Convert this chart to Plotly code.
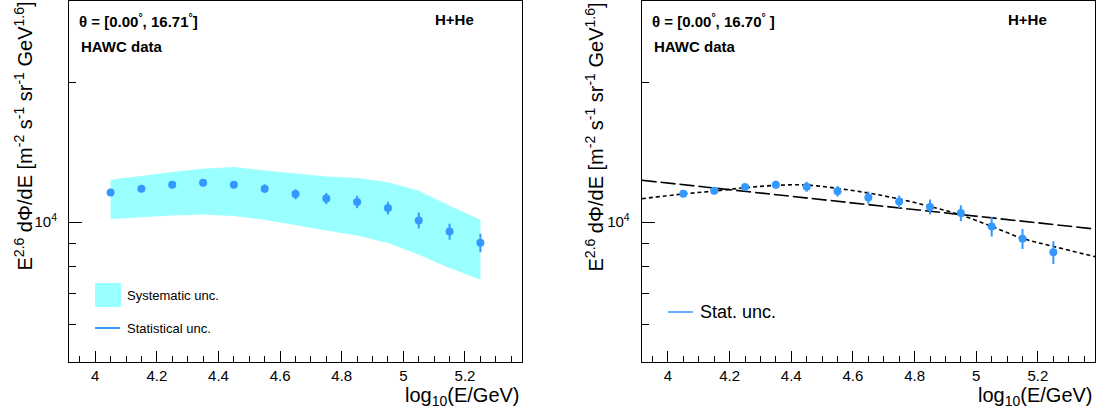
import plotly.graph_objects as go
import math

# ---------------- data ----------------
energy_bins = [4.05, 4.15, 4.25, 4.35, 4.45, 4.55, 4.65, 4.75, 4.85, 4.95, 5.05, 5.15, 5.25]

# left panel (HAWC data with systematic band)
left_flux = [11580, 11800, 12040, 12160, 12040, 11800, 11490, 11240, 11050, 10720, 10080, 9540, 9020]
left_stat_err = [86, 117, 150, 181, 210, 246, 286, 307, 346, 336, 401, 380, 417]
left_sys_upper = [12340, 12590, 12820, 13030, 13150, 12925, 12716, 12546, 12450, 12180, 11686, 10843, 10115]
left_sys_lower = [10150, 10250, 10335, 10385, 10300, 10115, 9833, 9592, 9356, 9007, 8500, 7956, 7505]

# right panel (HAWC data with fits)
right_flux = [11506, 11680, 11896, 12035, 11915, 11660, 11296, 11070, 10780, 10460, 9785, 9200, 8606]
right_stat_err = [143, 174, 207, 239, 296, 307, 348, 347, 402, 416, 477, 457, 484]

powerlaw_x = [3.915, 5.385]
powerlaw_y = [12310, 9660]

curve_x = [3.915, 4.05, 4.15, 4.25, 4.35, 4.45, 4.55, 4.65, 4.75, 4.85, 4.95, 5.05, 5.15, 5.25, 5.385]
curve_y = [11228, 11500, 11667, 11860, 12000, 12020, 11820, 11550, 11212, 10807, 10354, 9784, 9218, 8858, 8420]

x_range = [3.915, 5.385]
y_range = [5000, 30000]
y_major = [10000]
y_major_text = ["10<sup>4</sup>"]
y_minor = [6000, 7000, 8000, 9000, 20000]

# ---------------- styling ----------------
W, H = 1104, 419
FONT = "Liberation Sans, Arial, sans-serif"
BAND = "rgb(153,255,255)"
BLUE = "rgb(51,153,255)"

fig = go.Figure()

def px(x):
    return x / W

def py(y):
    return 1 - y / H

# left panel
fig.add_trace(go.Scatter(x=energy_bins, y=left_sys_lower, mode="lines",
                         line=dict(width=0, color=BAND), showlegend=False,
                         xaxis="x", yaxis="y", hoverinfo="skip"))
fig.add_trace(go.Scatter(x=energy_bins, y=left_sys_upper, mode="lines",
                         line=dict(width=0, color=BAND), fill="tonexty", fillcolor=BAND,
                         showlegend=False, xaxis="x", yaxis="y", hoverinfo="skip"))
fig.add_trace(go.Scatter(x=energy_bins, y=left_flux, mode="markers",
                         marker=dict(color=BLUE, size=8),
                         error_y=dict(type="data", array=left_stat_err, color=BLUE, thickness=2, width=0),
                         showlegend=False, xaxis="x", yaxis="y"))

# right panel
fig.add_trace(go.Scatter(x=powerlaw_x, y=powerlaw_y, mode="lines",
                         line=dict(color="black", width=1.6, dash="15px,4px"),
                         showlegend=False, xaxis="x2", yaxis="y2"))
fig.add_trace(go.Scatter(x=curve_x, y=curve_y, mode="lines",
                         line=dict(color="black", width=1.6, dash="4px,3px", shape="spline"),
                         showlegend=False, xaxis="x2", yaxis="y2"))
fig.add_trace(go.Scatter(x=energy_bins, y=right_flux, mode="markers",
                         marker=dict(color=BLUE, size=8),
                         error_y=dict(type="data", array=right_stat_err, color=BLUE, thickness=2, width=0),
                         showlegend=False, xaxis="x2", yaxis="y2"))

ydom = [1 - 361.5 / H, 1 - 1 / H]
left_dom = [69 / W, 522 / W]
right_dom = [641.7 / W, 1095 / W]

def xaxis(domain, anchor):
    return dict(domain=domain, anchor=anchor, range=x_range, showgrid=False, zeroline=False,
                showline=True, linecolor="black", linewidth=1, mirror=True,
                ticks="inside", tickmode="linear", tick0=4, dtick=0.2, ticklen=11,
                tickcolor="black", tickwidth=1,
                minor=dict(ticks="inside", dtick=0.05, tick0=4, ticklen=6, tickcolor="black", tickwidth=1),
                tickfont=dict(family=FONT, size=15, color="black"), fixedrange=True)

def yaxis(anchor):
    return dict(domain=ydom, anchor=anchor, type="log",
                range=[math.log10(y_range[0]), math.log10(y_range[1])],
                showgrid=False, zeroline=False, showline=True, linecolor="black", linewidth=1,
                mirror=True, ticks="inside", tickmode="array", tickvals=y_major, ticktext=y_major_text,
                ticklen=13, tickcolor="black", tickwidth=1, ticklabelstandoff=8,
                minor=dict(ticks="inside", tickmode="array", tickvals=y_minor, ticklen=7,
                           tickcolor="black", tickwidth=1),
                tickfont=dict(family=FONT, size=15, color="black"), fixedrange=True)

fig.update_layout(
    width=W, height=H, margin=dict(l=0, r=0, t=0, b=0),
    paper_bgcolor="white", plot_bgcolor="white", showlegend=False,
    xaxis=xaxis(left_dom, "y"), yaxis=yaxis("x"),
    xaxis2=xaxis(right_dom, "y2"), yaxis2=yaxis("x2"),
)

ytitle = "E<sup>2.6</sup> dΦ/dE [m<sup>-2</sup> s<sup>-1</sup> sr<sup>-1</sup> GeV<sup>1.6</sup>]"
xtitle = "log<sub>10</sub>(E/GeV)"

annotations = []
shapes = []

def add_panel_text(frame_left, frame_right, theta_text, ytitle_x):
    annotations.append(dict(x=px(frame_left + 8), y=py(20.7), xref="paper", yref="paper",
                            text=theta_text, showarrow=False, xanchor="left", yanchor="middle",
                            font=dict(family=FONT, size=15, color="black")))
    annotations.append(dict(x=px(frame_left + 10), y=py(46.7), xref="paper", yref="paper",
                            text="<b>HAWC data</b>", showarrow=False, xanchor="left", yanchor="middle",
                            font=dict(family=FONT, size=15, color="black")))
    annotations.append(dict(x=px(frame_right - 46), y=py(19.5), xref="paper", yref="paper",
                            text="<b>H+He</b>", showarrow=False, xanchor="right", yanchor="middle",
                            font=dict(family=FONT, size=15, color="black")))
    annotations.append(dict(x=px(ytitle_x), y=1.0, xref="paper", yref="paper",
                            text=ytitle, showarrow=False, textangle=-90, xanchor="center", yanchor="top",
                            font=dict(family=FONT, size=20, color="black")))
    annotations.append(dict(x=px(frame_right), y=py(396), xref="paper", yref="paper",
                            text=xtitle, showarrow=False, xanchor="right", yanchor="middle",
                            font=dict(family=FONT, size=20, color="black")))

add_panel_text(69, 522, "<b>θ = [0.00<sup>°</sup>, 16.71<sup>°</sup>]</b>", 23)
add_panel_text(641.7, 1095, "<b>θ = [0.00<sup>°</sup>, 16.70<sup>°</sup> ]</b>", 594)

# left legend
shapes.append(dict(type="rect", xref="paper", yref="paper", x0=px(95), x1=px(121), y0=py(307), y1=py(283),
                   fillcolor=BAND, line=dict(width=0)))
annotations.append(dict(x=px(125), y=py(295), xref="paper", yref="paper", text="Systematic unc.",
                        showarrow=False, xanchor="left", yanchor="middle",
                        font=dict(family=FONT, size=13, color="black")))
shapes.append(dict(type="line", xref="paper", yref="paper", x0=px(95), x1=px(120), y0=py(328), y1=py(328),
                   line=dict(color=BLUE, width=2)))
annotations.append(dict(x=px(125), y=py(328), xref="paper", yref="paper", text="Statistical unc.",
                        showarrow=False, xanchor="left", yanchor="middle",
                        font=dict(family=FONT, size=13, color="black")))

# right legend
shapes.append(dict(type="line", xref="paper", yref="paper", x0=px(668), x1=px(693), y0=py(312), y1=py(312),
                   line=dict(color=BLUE, width=1.5)))
annotations.append(dict(x=px(698), y=py(312), xref="paper", yref="paper", text="Stat. unc.",
                        showarrow=False, xanchor="left", yanchor="middle",
                        font=dict(family=FONT, size=18, color="black")))

fig.update_layout(annotations=annotations, shapes=shapes)

fig.write_html("out.html",
               config={"displayModeBar": False, "staticPlot": True},
               post_script="document.body.style.margin='0px';document.body.style.padding='0px';"
                           "document.documentElement.style.overflow='hidden';")
